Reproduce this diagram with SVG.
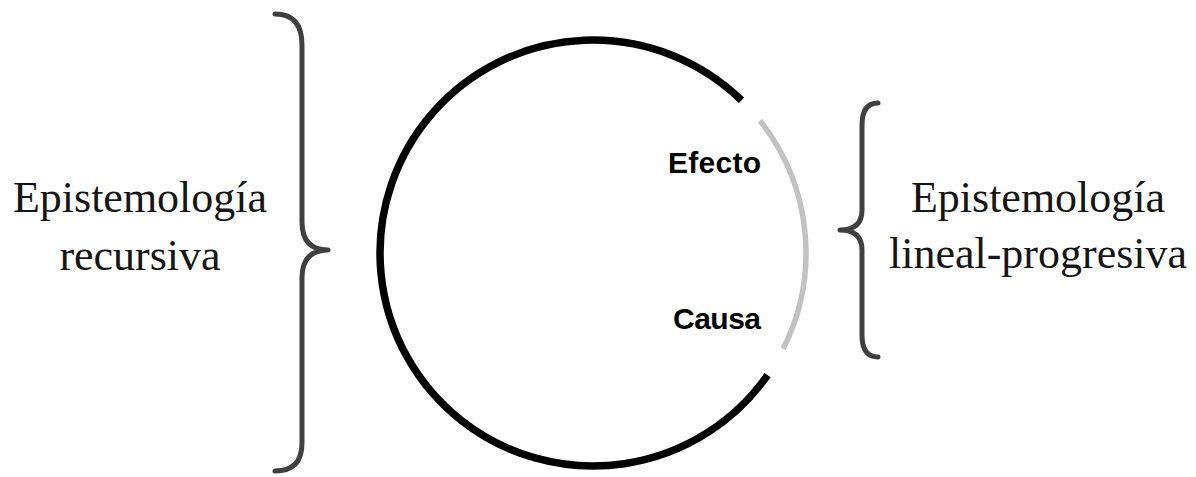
<svg xmlns="http://www.w3.org/2000/svg" width="1196" height="477" viewBox="0 0 1196 477">
  <style>
    .serif { font-family: "Liberation Serif", "Times New Roman", serif; font-size: 44px; fill: #151515; text-anchor: middle; }
    .label { font-family: "Liberation Sans", Arial, sans-serif; font-size: 30px; font-weight: bold; fill: #000; }
    .brace { fill: none; stroke: #404040; stroke-width: 5; stroke-linecap: round; stroke-linejoin: round; }
  </style>
  <rect width="1196" height="477" fill="#fff"/>
  <g id="recursive-circle">
    <path d="M 741.5 100.3 A 213 213 0 1 0 767.5 375.2" fill="none" stroke="#000" stroke-width="7.5"/>
  </g>
  <g id="linear-arc">
    <path d="M 760 120.7 A 213 213 0 0 1 783.2 348.7" fill="none" stroke="#c2c2c2" stroke-width="5.5"/>
  </g>
  <g id="efecto">
    <text class="label" x="668" y="173" textLength="93">Efecto</text>
  </g>
  <g id="causa">
    <text class="label" x="673" y="329" textLength="88">Causa</text>
  </g>
  <g id="left-brace">
    <path class="brace" d="M 275 14 Q 302 14 302 45 L 302 222 Q 302 250 328 250 Q 302 250 302 278 L 302 443 Q 302 471 275 471"/>
  </g>
  <g id="right-brace">
    <path class="brace" d="M 878 103 Q 862 103 862 125 L 862 210 Q 862 230 840 230 Q 862 230 862 250 L 862 335 Q 862 357 878 357"/>
  </g>
  <g id="left-label">
    <text class="serif" x="140" y="212">Epistemología</text>
    <text class="serif" x="140" y="270">recursiva</text>
  </g>
  <g id="right-label">
    <text class="serif" x="1038" y="212">Epistemología</text>
    <text class="serif" x="1038" y="268">lineal-progresiva</text>
  </g>
</svg>
